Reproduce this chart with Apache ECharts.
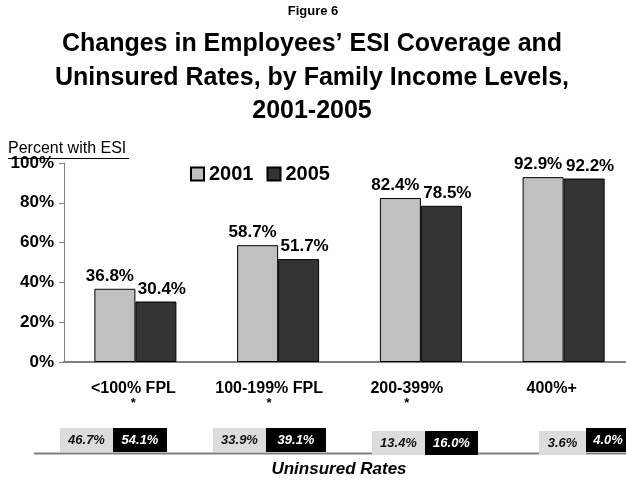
<!DOCTYPE html>
<html>
<head>
<meta charset="utf-8">
<script src="https://cdn.jsdelivr.net/npm/echarts@6/dist/echarts.min.js"></script>
<style>
  html, body { margin: 0; padding: 0; background: #fff; }
  #chart { width: 626px; height: 480px; }
</style>
</head>
<body>
<div id="chart"></div>
<script>
// Income groups and the share of employees with ESI in each survey year
const categories = ['<100% FPL', '100-199% FPL', '200-399%', '400%+'];
const significant = [true, true, true, false];
const years = ['2001', '2005'];
const esi2001 = [36.8, 58.7, 82.4, 92.9];
const esi2005 = [30.4, 51.7, 78.5, 92.2];
// Uninsured rates shown in the strip under the chart
const uninsured2001 = [46.7, 33.9, 13.4, 3.6];
const uninsured2005 = [54.1, 39.1, 16.0, 4.0];
const yTicks = [0, 20, 40, 60, 80, 100];

const FONT = '"Liberation Sans", Arial, Helvetica, sans-serif';
const pct = v => v.toFixed(1) + '%';

// horizontal nudge (px, leftwards) of each category caption
const captionShift = [2, 9, 14, 12];

const rich = {};
captionShift.forEach((s, i) => {
  rich['c' + i] = { fontFamily: FONT, fontSize: 16, fontWeight: 'bold', color: '#000', lineHeight: 16, padding: [0, 2 * s, 0, 0] };
  rich['s' + i] = { fontFamily: FONT, fontSize: 13, fontWeight: 'bold', color: '#000', lineHeight: 12, padding: [0, 2 * s, 0, 0] };
});

const chart = echarts.init(document.getElementById('chart'), null, { renderer: 'canvas' });

const option = {
  backgroundColor: '#ffffff',
  animation: false,
  textStyle: { fontFamily: FONT },
  grid: { left: 64, top: 163, width: 571, height: 199, containLabel: false, outerBoundsMode: 'none' },
  legend: {
    data: years,
    left: 190, top: 164, padding: 0,
    icon: 'rect', itemWidth: 13, itemHeight: 13, itemGap: 13,
    textStyle: { fontFamily: FONT, fontSize: 20, fontWeight: 'bold', color: '#000', padding: [0, 0, 0, 0] }
  },
  xAxis: {
    type: 'category',
    data: categories,
    axisLine: { lineStyle: { color: '#808080', width: 2 } },
    axisTick: { show: false },
    axisLabel: {
      margin: 19,
      interval: 0,
      formatter: (v, i) => '{c' + i + '|' + v + '}' + (significant[i] ? '\n{s' + i + '|*}' : ''),
      rich: rich
    }
  },
  yAxis: {
    type: 'value',
    min: yTicks[0], max: yTicks[yTicks.length - 1], interval: yTicks[1] - yTicks[0],
    axisLine: { show: true, lineStyle: { color: '#808080', width: 1 } },
    axisTick: { show: true, length: 5, lineStyle: { color: '#808080' } },
    splitLine: { show: false },
    axisLabel: {
      margin: 10,
      formatter: '{value}%',
      fontFamily: FONT, fontSize: 17, fontWeight: 'bold', color: '#000'
    }
  },
  series: [
    {
      name: years[0], type: 'bar', data: esi2001,
      barWidth: 41, barGap: '0%',
      itemStyle: { color: '#c0c0c0', borderColor: '#000', borderWidth: 1 },
      label: {
        show: true, position: 'top', distance: 4, offset: [-5, 0],
        formatter: p => pct(p.value),
        fontFamily: FONT, fontSize: 17, fontWeight: 'bold', color: '#000'
      }
    },
    {
      name: years[1], type: 'bar', data: esi2005,
      barWidth: 41, barGap: '0%',
      itemStyle: { color: '#333333', borderColor: '#000', borderWidth: 1 },
      label: {
        show: true, position: 'top', distance: 4, offset: [6, 0],
        formatter: p => pct(p.value),
        fontFamily: FONT, fontSize: 17, fontWeight: 'bold', color: '#000'
      }
    }
  ]
};

chart.setOption(option);

// Headings, the y-axis caption and the uninsured-rate strip
const boxShift = [-22, -12, 4, 22];
const grayW = [53, 53, 53, 47];
const blackW = [54, 60, 53, 44];
const grayTop = [428, 428, 431, 431];
const blackTop = [428, 428, 431, 428];
const boxH = 24;

const g = [
  { type: 'text', x: 313, y: 11, style: { text: 'Figure 6', font: 'bold 13px ' + FONT, fill: '#000', align: 'center', verticalAlign: 'middle' } },
  { type: 'text', x: 312, y: 44, style: { text: 'Changes in Employees\u2019 ESI Coverage and', font: 'bold 25px ' + FONT, fill: '#000', align: 'center', verticalAlign: 'middle' } },
  { type: 'text', x: 312, y: 78, style: { text: 'Uninsured Rates, by Family Income Levels,', font: 'bold 25px ' + FONT, fill: '#000', align: 'center', verticalAlign: 'middle' } },
  { type: 'text', x: 312, y: 111, style: { text: '2001-2005', font: 'bold 25px ' + FONT, fill: '#000', align: 'center', verticalAlign: 'middle' } },
  { type: 'text', x: 8, y: 149, style: { text: 'Percent with ESI', font: '16px ' + FONT, fill: '#000', align: 'left', verticalAlign: 'middle' } },
  { type: 'line', shape: { x1: 8, y1: 158.5, x2: 129, y2: 158.5 }, style: { stroke: '#000', lineWidth: 1 } },
  { type: 'line', shape: { x1: 34, y1: 453.5, x2: 626, y2: 453.5 }, style: { stroke: '#808080', lineWidth: 2 } },
  { type: 'text', x: 339, y: 469, style: { text: 'Uninsured Rates', font: 'italic bold 17px ' + FONT, fill: '#000', align: 'center', verticalAlign: 'middle' } }
];

categories.forEach((c, i) => {
  const cx = chart.convertToPixel({ xAxisIndex: 0 }, c);
  const split = Math.round(cx + boxShift[i]);
  const gx = split - grayW[i];
  g.push({ type: 'rect', shape: { x: gx, y: grayTop[i], width: grayW[i], height: boxH }, style: { fill: '#dcdcdc' } });
  g.push({ type: 'rect', shape: { x: split, y: blackTop[i], width: blackW[i], height: boxH }, style: { fill: '#000' } });
  g.push({ type: 'text', x: gx + grayW[i] / 2, y: grayTop[i] + boxH / 2, style: { text: pct(uninsured2001[i]), font: 'italic bold 13px ' + FONT, fill: '#111', align: 'center', verticalAlign: 'middle' } });
  g.push({ type: 'text', x: split + blackW[i] / 2, y: blackTop[i] + boxH / 2, style: { text: pct(uninsured2005[i]), font: 'italic bold 13px ' + FONT, fill: '#fff', align: 'center', verticalAlign: 'middle' } });
});

chart.setOption({ graphic: { elements: g } });
</script>
</body>
</html>
